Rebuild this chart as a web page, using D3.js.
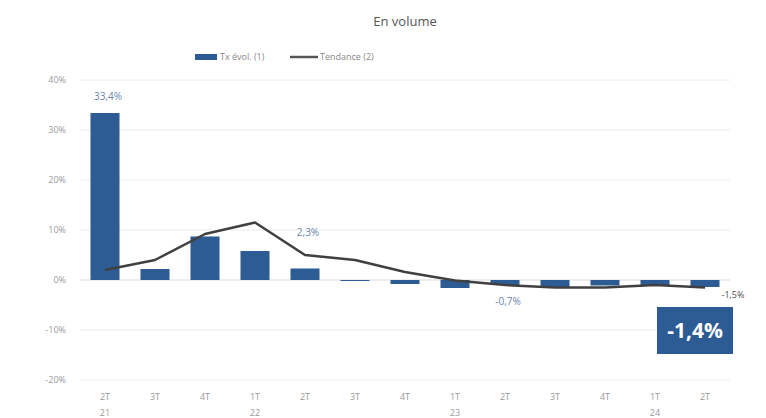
<!DOCTYPE html>
<html><head><meta charset="utf-8">
<script src="https://cdn.jsdelivr.net/npm/d3@7"></script>
<style>body{margin:0;background:#fff}svg{display:block}text{font-family:"Open Sans","Noto Sans",sans-serif}</style>
</head><body><svg id="c" width="766" height="418"></svg>
<script>
const quarters = ["2T","3T","4T","1T","2T","3T","4T","1T","2T","3T","4T","1T","2T"];
const years    = ["21","","","22","","","","23","","","","24",""];
const txEvol   = [33.4, 2.2, 8.7, 5.8, 2.3, -0.2, -0.8, -1.6, -1.0, -1.4, -1.1, -1.1, -1.4];
const tendance = [2.0, 4.0, 9.2, 11.5, 5.0, 4.0, 1.6, -0.1, -1.0, -1.5, -1.5, -1.0, -1.5];
const yTicks   = [40, 30, 20, 10, 0, -10, -20];
const barLabels = [{i:0,t:"33,4%"},{i:4,t:"2,3%"},{i:8,t:"-0,7%"}];

const svg = d3.select("#c");
const idx = d3.range(quarters.length);
const x = d3.scaleBand().domain(idx).range([80,730]).paddingInner(0.42).paddingOuter(0.21);
const y = d3.scaleLinear().domain([-20,40]).range([380,80]);
const blue = "#2d5b93";
const cx = i => x(i)+x.bandwidth()/2;

// gridlines + y labels
svg.append("g").selectAll("line").data(yTicks).join("line")
  .attr("x1",80).attr("x2",730).attr("y1",d=>y(d)).attr("y2",d=>y(d))
  .attr("stroke",d=>d===0?"#d9d9d9":"#ececec").attr("stroke-width",1);
svg.append("g").selectAll("text").data(yTicks).join("text")
  .attr("x",66).attr("y",d=>y(d)+3).attr("text-anchor","end")
  .attr("font-size",9).attr("fill","#9a9a9a").text(d=>d+"%");

// bars
svg.append("g").selectAll("rect").data(txEvol).join("rect")
  .attr("x",(d,i)=>x(i)).attr("width",x.bandwidth())
  .attr("y",d=>y(Math.max(0,d))).attr("height",d=>Math.abs(y(d)-y(0)))
  .attr("fill",blue);

// trend line
const line = d3.line().x((d,i)=>cx(i)).y(d=>y(d)).curve(d3.curveLinear);
svg.append("path").datum(tendance).attr("d",line).attr("fill","none")
  .attr("stroke","#404040").attr("stroke-width",2.5).attr("stroke-linejoin","round");

// x labels
const xl = svg.append("g");
xl.selectAll("text.q").data(quarters).join("text").attr("class","q")
  .attr("x",(d,i)=>cx(i)).attr("y",400).attr("text-anchor","middle")
  .attr("font-size",9).attr("fill","#9a9a9a").text(d=>d);
xl.selectAll("text.yr").data(years).join("text").attr("class","yr")
  .attr("x",(d,i)=>cx(i)).attr("y",416).attr("text-anchor","middle")
  .attr("font-size",9).attr("fill","#9a9a9a").text(d=>d);

// data labels
svg.append("g").selectAll("text").data(barLabels).join("text")
  .attr("x",d=>cx(d.i)+3)
  .attr("y",d=>txEvol[d.i]>=0 ? (d.i===0? y(txEvol[d.i])-13 : y(10)+6) : y(-5))
  .attr("text-anchor","middle").attr("font-size",10).attr("fill","#6b86ad").text(d=>d.t);
const last = tendance.length-1;
svg.append("text").attr("x",x(last)+x.bandwidth()+2).attr("y",y(tendance[last])+10)
  .attr("font-size",9).attr("fill","#505050").text("-1,5%");

// highlight box
const bxc = cx(last)-10;
svg.append("rect").attr("x",bxc-38).attr("y",y(-5.4)).attr("width",76).attr("height",47).attr("fill",blue);
svg.append("text").attr("x",bxc).attr("y",y(-5.4)+31).attr("text-anchor","middle")
  .attr("font-size",21).attr("font-weight","bold").attr("fill","#fff").text("-1,4%");

// title
svg.append("text").attr("x",405).attr("y",26).attr("text-anchor","middle")
  .attr("font-size",13).attr("fill","#555").text("En volume");

// legend
svg.append("rect").attr("x",195).attr("y",54).attr("width",22).attr("height",6).attr("fill",blue);
svg.append("text").attr("x",220).attr("y",60).attr("font-size",9).attr("fill","#888").text("Tx évol. (1)");
svg.append("line").attr("x1",290).attr("x2",318).attr("y1",57).attr("y2",57).attr("stroke","#555").attr("stroke-width",2.5);
svg.append("text").attr("x",320).attr("y",60).attr("font-size",9).attr("fill","#888").text("Tendance (2)");
</script></body></html>
